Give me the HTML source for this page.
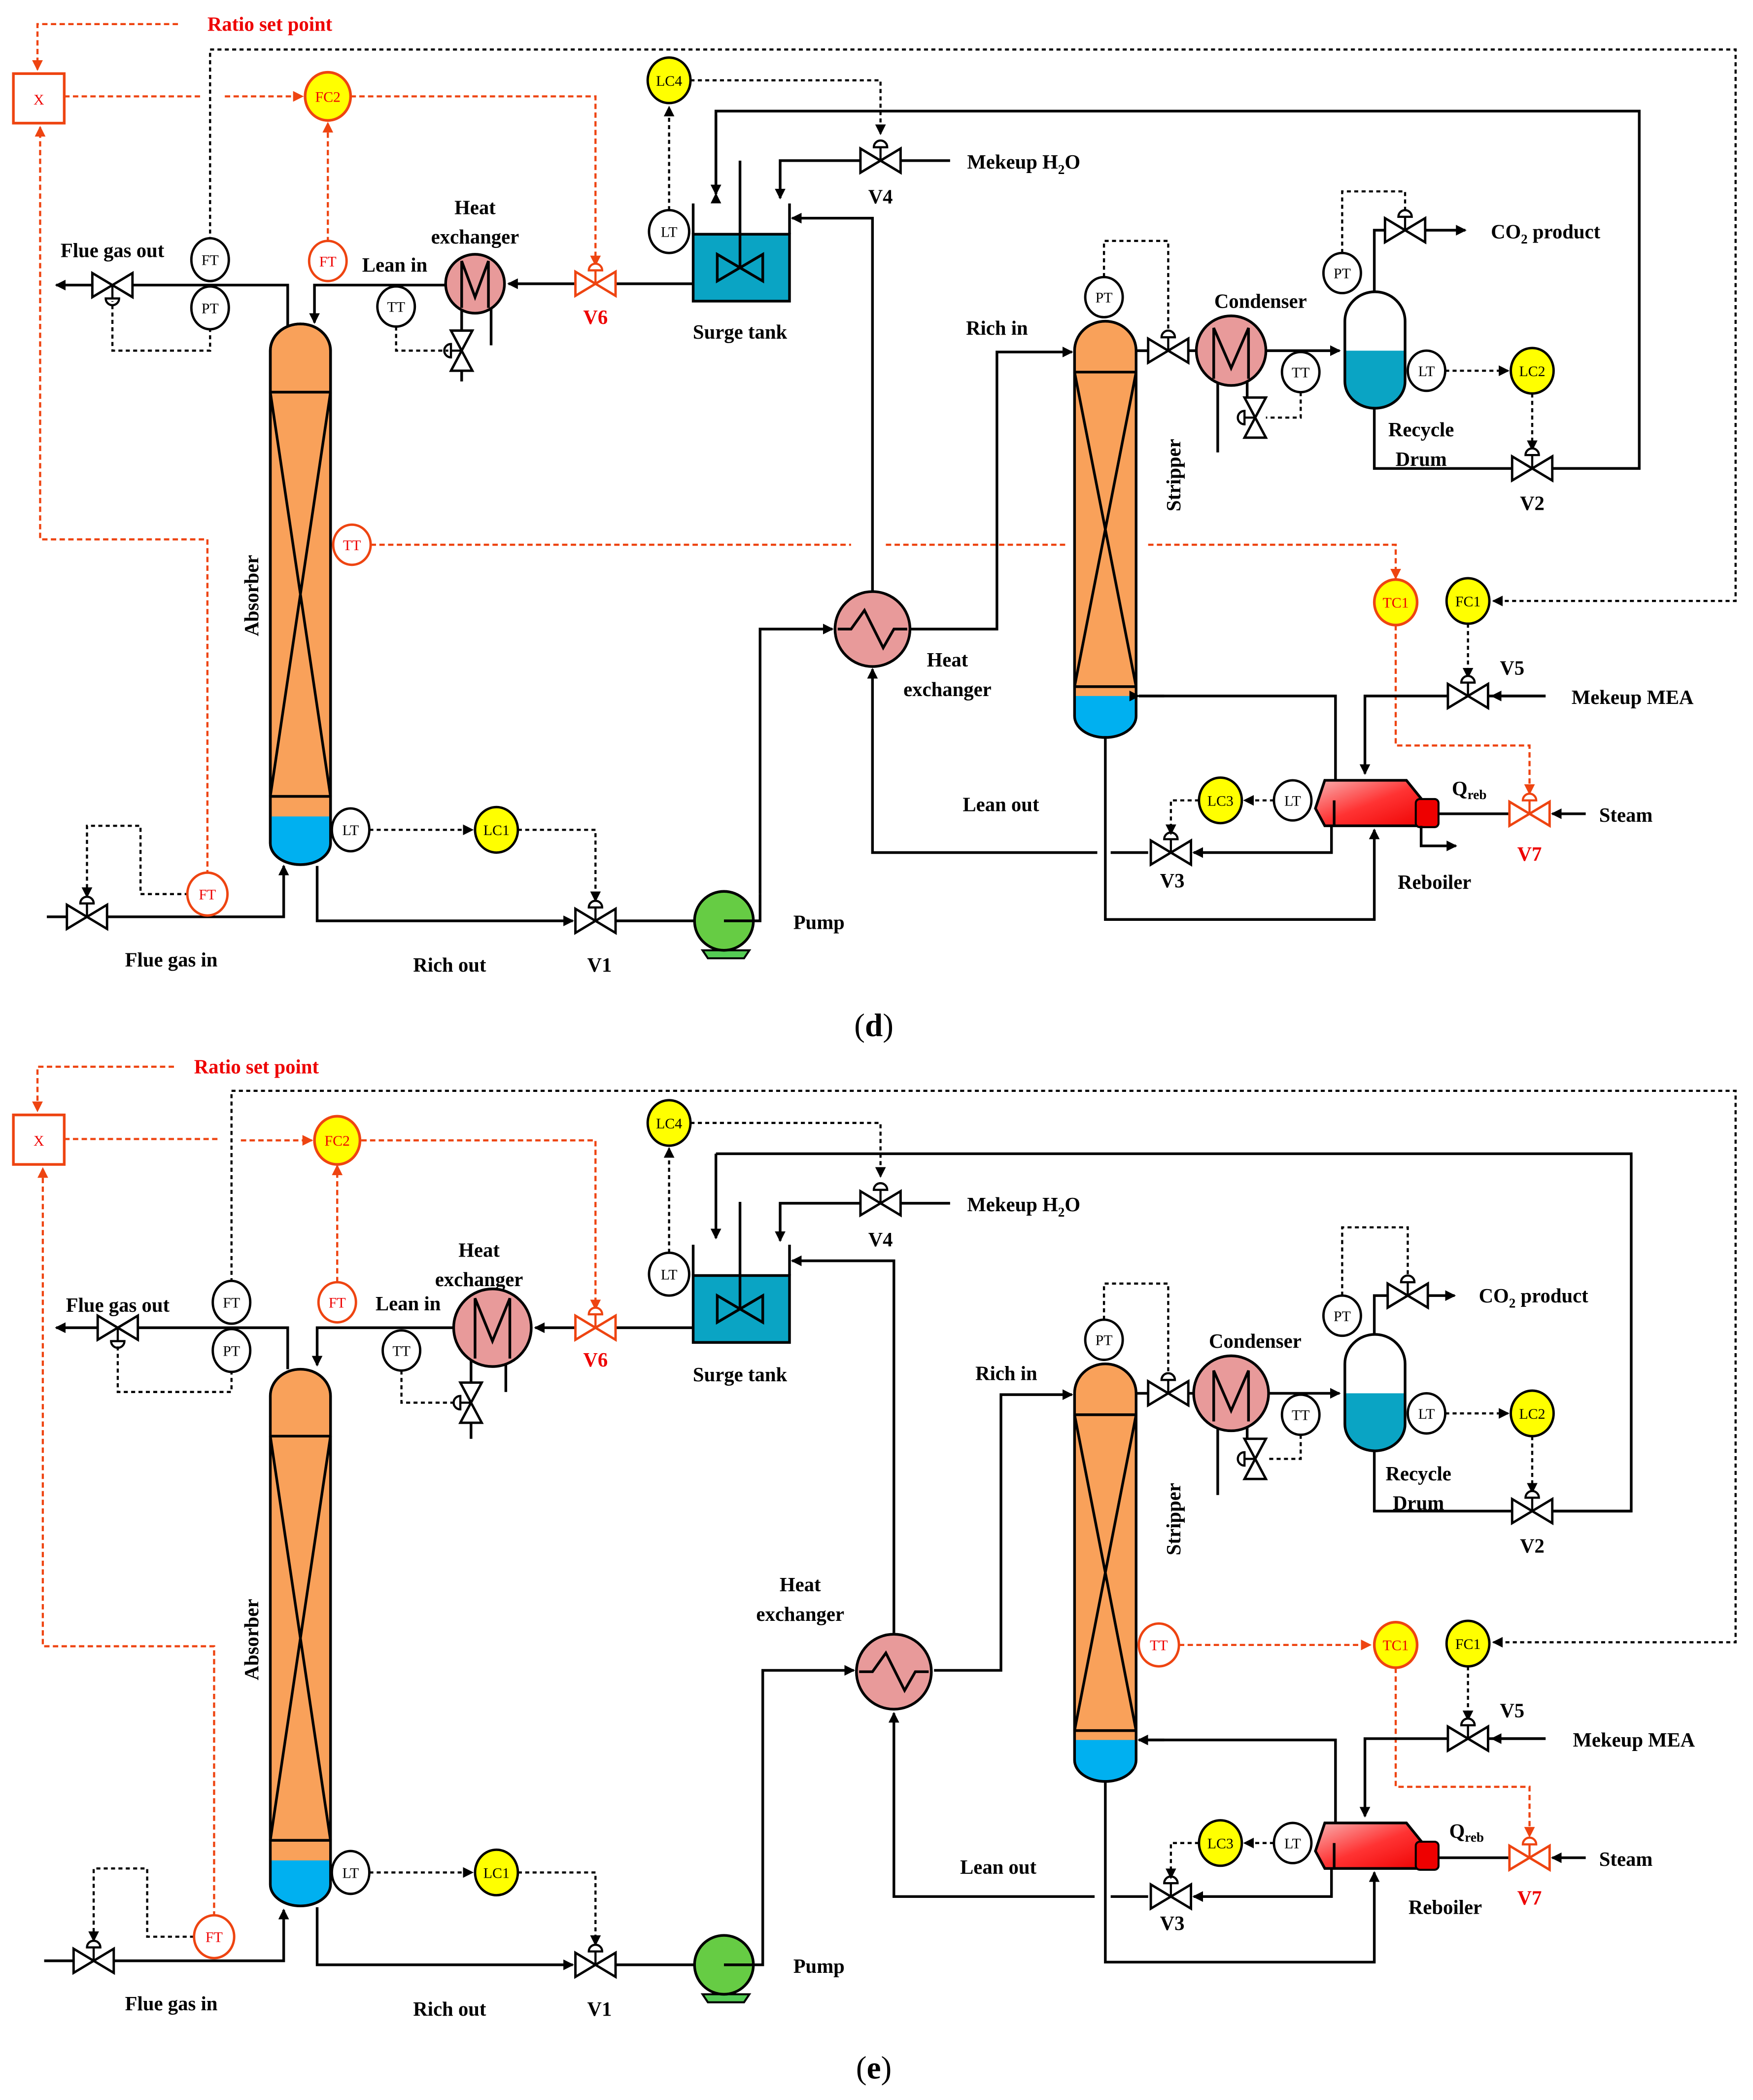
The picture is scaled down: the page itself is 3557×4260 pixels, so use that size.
<!DOCTYPE html>
<html><head><meta charset="utf-8"><style>html,body{margin:0;padding:0;background:#fff}svg{display:block}
text{font-family:"Liberation Serif",serif;font-weight:bold;font-size:15px;fill:#000}
.r{fill:#e00}.c{text-anchor:middle}.s{font-size:11px;font-weight:normal}
.l{stroke:#000;stroke-width:2;fill:none}.d{stroke:#000;stroke-width:1.6;fill:none;stroke-dasharray:3,2.5}
.rd{stroke:#e41;stroke-width:1.6;fill:none;stroke-dasharray:4,2.5}
</style></head><body>
<svg width="3557" height="4260" viewBox="0 0 1310 1569" preserveAspectRatio="none" xmlns="http://www.w3.org/2000/svg">
<defs>
<marker id="a" markerWidth="8" markerHeight="8" refX="7" refY="4" orient="auto" markerUnits="userSpaceOnUse"><path d="M0,0L8,4L0,8z" fill="#000"/></marker>
<marker id="ar" markerWidth="8" markerHeight="8" refX="7" refY="4" orient="auto" markerUnits="userSpaceOnUse"><path d="M0,0L8,4L0,8z" fill="#e41"/></marker>
<g id="v"><path d="M-15,-9L-15,9L15,-9L15,9z" fill="#fff" stroke="#000" stroke-width="1.8"/><path d="M0,0V-10M-5,-10A5,5 0 0 1 5,-10z" stroke="#000" stroke-width="1.6" fill="#fff"/></g>
<g id="vr"><path d="M-15,-9L-15,9L15,-9L15,9z" fill="#fff" stroke="#e41" stroke-width="1.8"/><path d="M0,0V-10M-5,-10A5,5 0 0 1 5,-10z" stroke="#e41" stroke-width="1.6" fill="#fff"/></g>
<g id="vd"><path d="M-15,-9L-15,9L15,-9L15,9z" fill="#fff" stroke="#000" stroke-width="1.8"/><path d="M0,0V10M-5,10A5,5 0 0 0 5,10z" stroke="#000" stroke-width="1.6" fill="#fff"/></g>
<g id="vv"><path d="M-8,-15L8,-15L-8,15L8,15z" fill="#fff" stroke="#000" stroke-width="1.8"/><path d="M0,0H-8M-8,-5A5,5 0 0 0 -8,5z" stroke="#000" stroke-width="1.6" fill="#fff"/></g>
<linearGradient id="rg" x1="0" y1="0" x2="1" y2="1"><stop offset="0" stop-color="#f8b0b0"/><stop offset=".5" stop-color="#f33"/><stop offset="1" stop-color="#e00"/></linearGradient>
</defs>

<!-- ===================== PANEL D ===================== -->
<g>
<text x="155" y="23" class="r">Ratio set point</text>
<path class="rd" d="M133,18H28V52" marker-end="url(#ar)"/>
<rect x="10" y="55" width="38" height="37" fill="#fff" stroke="#e41" stroke-width="2"/>
<text x="29" y="78" class="r c s">X</text>
<path class="rd" d="M48,72H150M168,72H226" marker-end="url(#ar)"/>
<path class="rd" d="M262,72H445V198" marker-end="url(#ar)"/>
<path class="rd" d="M245,181V92" marker-end="url(#ar)"/>
<path class="rd" d="M155,654V403H30V95" marker-end="url(#ar)"/>
<path class="d" d="M157,180V37H1297V449H1116" marker-end="url(#a)"/>
<!-- flue gas out -->
<path class="l" d="M215,245V213H42" marker-end="url(#a)"/>
<use href="#vd" x="84" y="213"/>
<path class="d" d="M157,245V262H84V225"/>
<ellipse cx="157" cy="194" rx="14" ry="16" fill="#fff" stroke="#000" stroke-width="1.8"/><text x="157" y="198" class="c s">FT</text>
<ellipse cx="157" cy="230" rx="14" ry="16" fill="#fff" stroke="#000" stroke-width="1.8"/><text x="157" y="234" class="c s">PT</text>
<text x="84" y="192" class="c">Flue gas out</text>
<ellipse cx="245" cy="195" rx="14" ry="15" fill="#fff" stroke="#e41" stroke-width="1.8"/><text x="245" y="199" class="c s r">FT</text>
<ellipse cx="245" cy="72" rx="17" ry="18" fill="#ff0" stroke="#e41" stroke-width="2"/><text x="245" y="76" class="c s r">FC2</text>
<text x="295" y="203" class="c">Lean in</text>
<!-- absorber -->
<path d="M202,262A22.5,20 0 0 1 247,262V630A22.5,16 0 0 1 202,630Z" fill="#f9a15a" stroke="#000" stroke-width="2"/>
<path d="M202,610H247V630A22.5,16 0 0 1 202,630Z" fill="#00b0f0"/>
<path d="M202,262A22.5,20 0 0 1 247,262V630A22.5,16 0 0 1 202,630Z" fill="none" stroke="#000" stroke-width="2"/>
<path class="l" d="M202,293H247M202,595H247M202,293L247,595M247,293L202,595" stroke-width="1.5"/>
<text transform="translate(193,445) rotate(-90)" class="c">Absorber</text>
<path class="l" d="M335,213H235V241" marker-end="url(#a)"/>
<!-- HX top -->
<path class="l" d="M345,215V285M367,215V258" stroke-width="1.8"/>
<circle cx="355" cy="212" r="22" fill="#e89a9a" stroke="#000" stroke-width="2"/>
<path class="l" d="M345,230V195L355,222L365,195V230" stroke-width="1.8"/>
<use href="#vv" x="345" y="262"/>
<ellipse cx="296" cy="229" rx="14" ry="15" fill="#fff" stroke="#000" stroke-width="1.8"/><text x="296" y="233" class="c s">TT</text>
<path class="d" d="M296,244V262H335"/>
<text x="355" y="160" class="c">Heat</text><text x="355" y="182" class="c">exchanger</text>
<path class="l" d="M518,212H380" marker-end="url(#a)"/>
<use href="#vr" x="445" y="212"/>
<text x="445" y="242" class="c r">V6</text>
<!-- surge tank -->
<rect x="518" y="175" width="72" height="50" fill="#0aa4c4" stroke="#000" stroke-width="2"/>
<path class="l" d="M518,152V175M590,152V175"/>
<path d="M536,190L536,210L570,190L570,210z" fill="none" stroke="#000" stroke-width="2"/><path class="l" d="M553,200V120"/>
<text x="553" y="253" class="c">Surge tank</text>
<ellipse cx="500" cy="173" rx="15" ry="16" fill="#fff" stroke="#000" stroke-width="1.8"/><text x="500" y="177" class="c s">LT</text>
<path class="d" d="M500,157V80" marker-end="url(#a)"/>
<ellipse cx="500" cy="60" rx="16" ry="17" fill="#ff0" stroke="#000" stroke-width="1.8"/><text x="500" y="64" class="c s">LC4</text>
<path class="d" d="M516,60H658V100" marker-end="url(#a)"/>
<path class="l" d="M710,120H583V148" marker-end="url(#a)"/>
<use href="#v" x="658" y="120"/>
<text x="658" y="152" class="c">V4</text>
<text x="765" y="126" class="c">Mekeup H<tspan font-size="10" dy="4">2</tspan><tspan dy="-4">O</tspan></text>
<path class="l" d="M535,145V83H1225V350H1160" marker-start="url(#a)"/>
<path class="l" d="M535,86V145" marker-end="url(#a)"/>
<path class="l" d="M652,442V163H592" marker-end="url(#a)"/>
<!-- HX mid -->
<path class="l" d="M568,668V470H622" marker-end="url(#a)"/>
<path class="l" d="M680,470H745V263H801" marker-end="url(#a)"/>
<path class="l" d="M820,637H652V500" marker-end="url(#a)"/>
<circle cx="652" cy="470" r="28" fill="#e89a9a" stroke="#000" stroke-width="2"/>
<path class="l" d="M626,470H636L646,456L660,484L668,470H678" stroke-width="1.8"/>
<text x="708" y="498" class="c">Heat</text><text x="708" y="520" class="c">exchanger</text>
<text x="745" y="250" class="c">Rich in</text>
<text x="748" y="606" class="c">Lean out</text>
<!-- TT red -->
<path class="rd" d="M277,407H636M662,407H797M858,407H1043V432" marker-end="url(#ar)"/>
<ellipse cx="263" cy="407" rx="14" ry="15" fill="#fff" stroke="#e41" stroke-width="1.8"/><text x="263" y="411" class="c s r">TT</text>
<!-- bottom absorber -->
<path class="l" d="M237,647V688H428" marker-end="url(#a)"/>
<use href="#v" x="445" y="688"/>
<path class="l" d="M460,688H519"/>
<ellipse cx="262" cy="620" rx="14" ry="16" fill="#fff" stroke="#000" stroke-width="1.8"/><text x="262" y="624" class="c s">LT</text>
<path class="d" d="M276,620H353" marker-end="url(#a)"/>
<ellipse cx="371" cy="620" rx="16" ry="17" fill="#ff0" stroke="#000" stroke-width="1.8"/><text x="371" y="624" class="c s">LC1</text>
<path class="d" d="M387,620H445V673" marker-end="url(#a)"/>
<path d="M525,710H560L556,716H529z" fill="#5c5" stroke="#000" stroke-width="1.5"/>
<circle cx="541" cy="688" r="22" fill="#6c4" stroke="#000" stroke-width="2"/>
<path class="l" d="M541,688H568V668" stroke-width="1.8"/>
<text x="612" y="694" class="c">Pump</text>
<text x="336" y="726" class="c">Rich out</text><text x="448" y="726" class="c">V1</text>
<path class="l" d="M35,685H212V647" marker-end="url(#a)"/>
<use href="#v" x="65" y="685"/>
<path class="d" d="M141,668H105V617H65V670" marker-end="url(#a)"/>
<ellipse cx="155" cy="668" rx="15" ry="16" fill="#fff" stroke="#e41" stroke-width="1.8"/><text x="155" y="672" class="c s r">FT</text>
<text x="128" y="722" class="c">Flue gas in</text>
<!-- stripper -->
<path d="M803,262A23,22 0 0 1 849,262V535A23,16 0 0 1 803,535Z" fill="#f9a15a"/>
<path d="M803,520H849V535A23,16 0 0 1 803,535Z" fill="#00b0f0"/>
<path d="M803,262A23,22 0 0 1 849,262V535A23,16 0 0 1 803,535Z" fill="none" stroke="#000" stroke-width="2"/>
<path class="l" d="M803,278H849M803,513H849M803,278L849,513M849,278L803,513" stroke-width="1.5"/>
<text transform="translate(882,355) rotate(-90)" class="c">Stripper</text>
<ellipse cx="825" cy="222" rx="14" ry="15" fill="#fff" stroke="#000" stroke-width="1.8"/><text x="825" y="226" class="c s">PT</text>
<path class="d" d="M825,207V180H873V250"/>
<path class="l" d="M849,262H1001" marker-end="url(#a)"/>
<use href="#v" x="873" y="262"/>
<path class="l" d="M910,270V338M932,268V300" stroke-width="1.8"/>
<circle cx="920" cy="262" r="26" fill="#e89a9a" stroke="#000" stroke-width="2"/>
<path class="l" d="M907,283V245L920,275L933,245V283" stroke-width="1.8"/>
<use href="#vv" x="938" y="312" transform="rotate(0)"/>
<ellipse cx="972" cy="278" rx="14" ry="15" fill="#fff" stroke="#000" stroke-width="1.8"/><text x="972" y="282" class="c s">TT</text>
<path class="d" d="M972,293V312H946"/>
<text x="942" y="230" class="c">Condenser</text>
<!-- drum -->
<path d="M1005,240A22.5,22 0 0 1 1050,240V285A22.5,20 0 0 1 1005,285Z" fill="#fff"/>
<path d="M1005,262H1050V285A22.5,20 0 0 1 1005,285Z" fill="#0aa4c4"/>
<path d="M1005,240A22.5,22 0 0 1 1050,240V285A22.5,20 0 0 1 1005,285Z" fill="none" stroke="#000" stroke-width="2"/>
<ellipse cx="1003" cy="204" rx="14" ry="15" fill="#fff" stroke="#000" stroke-width="1.8"/><text x="1003" y="208" class="c s">PT</text>
<path class="d" d="M1003,189V143H1050V160"/>
<path class="l" d="M1027,218V172H1095" marker-end="url(#a)"/>
<use href="#v" x="1050" y="172"/>
<text x="1155" y="178" class="c">CO<tspan font-size="10" dy="4">2</tspan><tspan dy="-4"> product</tspan></text>
<ellipse cx="1066" cy="277" rx="14" ry="15" fill="#fff" stroke="#000" stroke-width="1.8"/><text x="1066" y="281" class="c s">LT</text>
<path class="d" d="M1080,277H1127" marker-end="url(#a)"/>
<ellipse cx="1145" cy="277" rx="16" ry="17" fill="#ff0" stroke="#000" stroke-width="1.8"/><text x="1145" y="281" class="c s">LC2</text>
<path class="d" d="M1145,294V336" marker-end="url(#a)"/>
<path class="l" d="M1027,305V350H1225"/>
<use href="#v" x="1145" y="350"/>
<text x="1145" y="381" class="c">V2</text>
<text x="1062" y="326" class="c">Recycle</text><text x="1062" y="348" class="c">Drum</text>
<!-- TC1 FC1 -->
<ellipse cx="1043" cy="450" rx="16" ry="17" fill="#ff0" stroke="#e41" stroke-width="2"/><text x="1043" y="454" class="c s r">TC1</text>
<path class="rd" d="M1043,467V557H1143V593" marker-end="url(#ar)"/>
<ellipse cx="1097" cy="449" rx="16" ry="17" fill="#ff0" stroke="#000" stroke-width="1.8"/><text x="1097" y="453" class="c s">FC1</text>
<path class="d" d="M1097,466V506" marker-end="url(#a)"/>
<path class="l" d="M1155,520H1020V578" marker-end="url(#a)"/>
<use href="#v" x="1097" y="520"/>
<path class="l" d="M1155,520H1115" marker-end="url(#a)"/>
<text x="1130" y="504" class="c">V5</text>
<text x="1220" y="526" class="c">Mekeup MEA</text>
<path class="l" d="M851,520H998V583" />
<path class="l" d="M851,520H870" marker-start="url(#a)"/>
<!-- reboiler -->
<path d="M990,583H1051L1068,604V617H990L983,604Z" fill="url(#rg)" stroke="#000" stroke-width="2"/>
<rect x="1058" y="597" width="17" height="21" rx="3" fill="#e00" stroke="#000" stroke-width="1.5"/>
<path class="l" d="M997,617V598"/>
<path class="l" d="M1075,608H1130"/>
<use href="#vr" x="1143" y="608"/>
<path class="l" d="M1185,608H1160" marker-end="url(#a)"/>
<text x="1215" y="614" class="c">Steam</text>
<text x="1143" y="643" class="c r">V7</text>
<text x="1085" y="594">Q<tspan font-size="10" dy="3">reb</tspan></text>
<path class="l" d="M1062,617V632H1088" marker-end="url(#a)"/>
<text x="1072" y="664" class="c">Reboiler</text>
<path class="l" d="M995,617V637H892" marker-end="url(#a)"/>
<path class="l" d="M858,637H830"/>
<use href="#v" x="875" y="637"/>
<text x="876" y="663" class="c">V3</text>
<ellipse cx="966" cy="598" rx="14" ry="15" fill="#fff" stroke="#000" stroke-width="1.8"/><text x="966" y="602" class="c s">LT</text>
<path class="d" d="M952,598H930" marker-end="url(#a)"/>
<ellipse cx="912" cy="598" rx="16" ry="17" fill="#ff0" stroke="#000" stroke-width="1.8"/><text x="912" y="602" class="c s">LC3</text>
<path class="d" d="M896,598H875V623" marker-end="url(#a)"/>
<path class="l" d="M826,550V687H1027V620" marker-end="url(#a)"/>
<text x="653" y="774" class="c" style="font-size:24px;font-weight:normal">(<tspan font-weight="bold">d</tspan>)</text>
</g>

<!-- ===================== PANEL E ===================== -->
<g>
<text x="145" y="802" class="r">Ratio set point</text>
<path class="rd" d="M130,797H28V830" marker-end="url(#ar)"/>
<rect x="10" y="833" width="38" height="37" fill="#fff" stroke="#e41" stroke-width="2"/>
<text x="29" y="856" class="r c s">X</text>
<path class="rd" d="M48,851H165M180,852H233" marker-end="url(#ar)"/>
<path class="rd" d="M270,852H445V978" marker-end="url(#ar)"/>
<path class="rd" d="M252,958V871" marker-end="url(#ar)"/>
<path class="rd" d="M160,1432V1230H32V873" marker-end="url(#ar)"/>
<path class="d" d="M173,958V815H1297V1227H1116" marker-end="url(#a)"/>
<path class="l" d="M215,1023V992H42" marker-end="url(#a)"/>
<use href="#vd" x="88" y="992"/>
<path class="d" d="M173,1024V1040H88V1004"/>
<ellipse cx="173" cy="973" rx="14" ry="16" fill="#fff" stroke="#000" stroke-width="1.8"/><text x="173" y="977" class="c s">FT</text>
<ellipse cx="173" cy="1009" rx="14" ry="16" fill="#fff" stroke="#000" stroke-width="1.8"/><text x="173" y="1013" class="c s">PT</text>
<text x="88" y="980" class="c">Flue gas out</text>
<ellipse cx="252" cy="973" rx="14" ry="15" fill="#fff" stroke="#e41" stroke-width="1.8"/><text x="252" y="977" class="c s r">FT</text>
<ellipse cx="252" cy="852" rx="17" ry="18" fill="#ff0" stroke="#e41" stroke-width="2"/><text x="252" y="856" class="c s r">FC2</text>
<text x="305" y="979" class="c">Lean in</text>
<path d="M202,1043A22.5,20 0 0 1 247,1043V1408A22.5,16 0 0 1 202,1408Z" fill="#f9a15a"/>
<path d="M202,1390H247V1408A22.5,16 0 0 1 202,1408Z" fill="#00b0f0"/>
<path d="M202,1043A22.5,20 0 0 1 247,1043V1408A22.5,16 0 0 1 202,1408Z" fill="none" stroke="#000" stroke-width="2"/>
<path class="l" d="M202,1073H247M202,1375H247M202,1073L247,1375M247,1073L202,1375" stroke-width="1.5"/>
<text transform="translate(193,1225) rotate(-90)" class="c">Absorber</text>
<path class="l" d="M345,992H237V1020" marker-end="url(#a)"/>
<path class="l" d="M352,995V1075M378,995V1040" stroke-width="1.8"/>
<circle cx="368" cy="992" r="29" fill="#e89a9a" stroke="#000" stroke-width="2"/>
<path class="l" d="M355,1015V970L368,1002L381,970V1015" stroke-width="1.8"/>
<use href="#vv" x="352" y="1048"/>
<ellipse cx="300" cy="1009" rx="14" ry="15" fill="#fff" stroke="#000" stroke-width="1.8"/><text x="300" y="1013" class="c s">TT</text>
<path class="d" d="M300,1024V1048H342"/>
<text x="358" y="939" class="c">Heat</text><text x="358" y="961" class="c">exchanger</text>
<path class="l" d="M518,992H400" marker-end="url(#a)"/>
<use href="#vr" x="445" y="992"/>
<text x="445" y="1021" class="c r">V6</text>
<rect x="518" y="953" width="72" height="50" fill="#0aa4c4" stroke="#000" stroke-width="2"/>
<path class="l" d="M518,930V953M590,930V953"/>
<path d="M536,968L536,988L570,968L570,988z" fill="none" stroke="#000" stroke-width="2"/><path class="l" d="M553,978V898"/>
<text x="553" y="1032" class="c">Surge tank</text>
<ellipse cx="500" cy="952" rx="15" ry="16" fill="#fff" stroke="#000" stroke-width="1.8"/><text x="500" y="956" class="c s">LT</text>
<path class="d" d="M500,936V858" marker-end="url(#a)"/>
<ellipse cx="500" cy="839" rx="16" ry="17" fill="#ff0" stroke="#000" stroke-width="1.8"/><text x="500" y="843" class="c s">LC4</text>
<path class="d" d="M516,839H658V879" marker-end="url(#a)"/>
<path class="l" d="M710,899H583V927" marker-end="url(#a)"/>
<use href="#v" x="658" y="899"/>
<text x="658" y="931" class="c">V4</text>
<text x="765" y="905" class="c">Mekeup H<tspan font-size="10" dy="4">2</tspan><tspan dy="-4">O</tspan></text>
<path class="l" d="M535,862H1219V1129H1160"/>
<path class="l" d="M535,862V925" marker-end="url(#a)"/>
<path class="l" d="M668,1220V942H592" marker-end="url(#a)"/>
<path class="l" d="M570,1448V1248H638" marker-end="url(#a)"/>
<path class="l" d="M698,1248H748V1042H801" marker-end="url(#a)"/>
<path class="l" d="M818,1417H668V1280" marker-end="url(#a)"/>
<circle cx="668" cy="1249" r="28" fill="#e89a9a" stroke="#000" stroke-width="2"/>
<path class="l" d="M642,1249H652L662,1235L676,1263L684,1249H694" stroke-width="1.8"/>
<text x="598" y="1189" class="c">Heat</text><text x="598" y="1211" class="c">exchanger</text>
<text x="752" y="1031" class="c">Rich in</text>
<text x="746" y="1400" class="c">Lean out</text>
<path class="l" d="M237,1425V1468H428" marker-end="url(#a)"/>
<use href="#v" x="445" y="1468"/>
<path class="l" d="M460,1468H519"/>
<ellipse cx="262" cy="1399" rx="14" ry="16" fill="#fff" stroke="#000" stroke-width="1.8"/><text x="262" y="1403" class="c s">LT</text>
<path class="d" d="M276,1399H353" marker-end="url(#a)"/>
<ellipse cx="371" cy="1399" rx="16" ry="17" fill="#ff0" stroke="#000" stroke-width="1.8"/><text x="371" y="1403" class="c s">LC1</text>
<path class="d" d="M387,1399H445V1453" marker-end="url(#a)"/>
<path d="M525,1490H560L556,1496H529z" fill="#5c5" stroke="#000" stroke-width="1.5"/>
<circle cx="541" cy="1468" r="22" fill="#6c4" stroke="#000" stroke-width="2"/>
<path class="l" d="M541,1468H570V1448" stroke-width="1.8"/>
<text x="612" y="1474" class="c">Pump</text>
<text x="336" y="1506" class="c">Rich out</text><text x="448" y="1506" class="c">V1</text>
<path class="l" d="M33,1465H212V1427" marker-end="url(#a)"/>
<use href="#v" x="70" y="1465"/>
<path class="d" d="M145,1447H110V1396H70V1450" marker-end="url(#a)"/>
<ellipse cx="160" cy="1447" rx="15" ry="16" fill="#fff" stroke="#e41" stroke-width="1.8"/><text x="160" y="1451" class="c s r">FT</text>
<text x="128" y="1502" class="c">Flue gas in</text>
<path d="M803,1041A23,22 0 0 1 849,1041V1315A23,16 0 0 1 803,1315Z" fill="#f9a15a"/>
<path d="M803,1300H849V1315A23,16 0 0 1 803,1315Z" fill="#00b0f0"/>
<path d="M803,1041A23,22 0 0 1 849,1041V1315A23,16 0 0 1 803,1315Z" fill="none" stroke="#000" stroke-width="2"/>
<path class="l" d="M803,1057H849M803,1293H849M803,1057L849,1293M849,1057L803,1293" stroke-width="1.5"/>
<text transform="translate(882,1135) rotate(-90)" class="c">Stripper</text>
<ellipse cx="866" cy="1229" rx="15" ry="16" fill="#fff" stroke="#e41" stroke-width="1.8"/><text x="866" y="1233" class="c s r">TT</text>
<path class="rd" d="M881,1229H1024" marker-end="url(#ar)"/>
<ellipse cx="825" cy="1001" rx="14" ry="15" fill="#fff" stroke="#000" stroke-width="1.8"/><text x="825" y="1005" class="c s">PT</text>
<path class="d" d="M825,986V959H873V1029"/>
<path class="l" d="M849,1041H1001" marker-end="url(#a)"/>
<use href="#v" x="873" y="1041"/>
<path class="l" d="M910,1049V1117M932,1047V1079" stroke-width="1.8"/>
<circle cx="920" cy="1041" r="28" fill="#e89a9a" stroke="#000" stroke-width="2"/>
<path class="l" d="M907,1062V1024L920,1054L933,1024V1062" stroke-width="1.8"/>
<use href="#vv" x="938" y="1090"/>
<ellipse cx="972" cy="1057" rx="14" ry="15" fill="#fff" stroke="#000" stroke-width="1.8"/><text x="972" y="1061" class="c s">TT</text>
<path class="d" d="M972,1072V1090H946"/>
<text x="938" y="1007" class="c">Condenser</text>
<path d="M1005,1019A22.5,22 0 0 1 1050,1019V1064A22.5,20 0 0 1 1005,1064Z" fill="#fff"/>
<path d="M1005,1041H1050V1064A22.5,20 0 0 1 1005,1064Z" fill="#0aa4c4"/>
<path d="M1005,1019A22.5,22 0 0 1 1050,1019V1064A22.5,20 0 0 1 1005,1064Z" fill="none" stroke="#000" stroke-width="2"/>
<ellipse cx="1003" cy="983" rx="14" ry="15" fill="#fff" stroke="#000" stroke-width="1.8"/><text x="1003" y="987" class="c s">PT</text>
<path class="d" d="M1003,968V917H1052V955"/>
<path class="l" d="M1027,997V968H1087" marker-end="url(#a)"/>
<use href="#v" x="1052" y="968"/>
<text x="1146" y="973" class="c">CO<tspan font-size="10" dy="4">2</tspan><tspan dy="-4"> product</tspan></text>
<ellipse cx="1066" cy="1056" rx="14" ry="15" fill="#fff" stroke="#000" stroke-width="1.8"/><text x="1066" y="1060" class="c s">LT</text>
<path class="d" d="M1080,1056H1127" marker-end="url(#a)"/>
<ellipse cx="1145" cy="1056" rx="16" ry="17" fill="#ff0" stroke="#000" stroke-width="1.8"/><text x="1145" y="1060" class="c s">LC2</text>
<path class="d" d="M1145,1073V1115" marker-end="url(#a)"/>
<path class="l" d="M1027,1084V1129H1219"/>
<use href="#v" x="1145" y="1129"/>
<text x="1145" y="1160" class="c">V2</text>
<text x="1060" y="1106" class="c">Recycle</text><text x="1060" y="1128" class="c">Drum</text>
<ellipse cx="1043" cy="1229" rx="16" ry="17" fill="#ff0" stroke="#e41" stroke-width="2"/><text x="1043" y="1233" class="c s r">TC1</text>
<path class="rd" d="M1043,1246V1335H1143V1372" marker-end="url(#ar)"/>
<ellipse cx="1097" cy="1228" rx="16" ry="17" fill="#ff0" stroke="#000" stroke-width="1.8"/><text x="1097" y="1232" class="c s">FC1</text>
<path class="d" d="M1097,1245V1285" marker-end="url(#a)"/>
<path class="l" d="M1155,1299H1020V1357" marker-end="url(#a)"/>
<use href="#v" x="1097" y="1299"/>
<path class="l" d="M1155,1299H1115" marker-end="url(#a)"/>
<text x="1130" y="1283" class="c">V5</text>
<text x="1221" y="1305" class="c">Mekeup MEA</text>
<path class="l" d="M998,1362V1300H851"/>
<path class="l" d="M870,1300H851" marker-end="url(#a)"/>
<path d="M990,1362H1051L1068,1383V1396H990L983,1383Z" fill="url(#rg)" stroke="#000" stroke-width="2"/>
<rect x="1058" y="1376" width="17" height="21" rx="3" fill="#e00" stroke="#000" stroke-width="1.5"/>
<path class="l" d="M997,1396V1377"/>
<path class="l" d="M1075,1388H1130"/>
<use href="#vr" x="1143" y="1388"/>
<path class="l" d="M1185,1388H1160" marker-end="url(#a)"/>
<text x="1215" y="1394" class="c">Steam</text>
<text x="1143" y="1423" class="c r">V7</text>
<text x="1083" y="1373">Q<tspan font-size="10" dy="3">reb</tspan></text>
<text x="1080" y="1430" class="c">Reboiler</text>
<path class="l" d="M995,1396V1417H892" marker-end="url(#a)"/>
<path class="l" d="M858,1417H830"/>
<use href="#v" x="875" y="1417"/>
<text x="876" y="1442" class="c">V3</text>
<ellipse cx="966" cy="1377" rx="14" ry="15" fill="#fff" stroke="#000" stroke-width="1.8"/><text x="966" y="1381" class="c s">LT</text>
<path class="d" d="M952,1377H930" marker-end="url(#a)"/>
<ellipse cx="912" cy="1377" rx="16" ry="17" fill="#ff0" stroke="#000" stroke-width="1.8"/><text x="912" y="1381" class="c s">LC3</text>
<path class="d" d="M896,1377H875V1403" marker-end="url(#a)"/>
<path class="l" d="M826,1330V1466H1027V1399" marker-end="url(#a)"/>
<text x="653" y="1553" class="c" style="font-size:24px;font-weight:normal">(<tspan font-weight="bold">e</tspan>)</text>
</g>
</svg>
</body></html>
